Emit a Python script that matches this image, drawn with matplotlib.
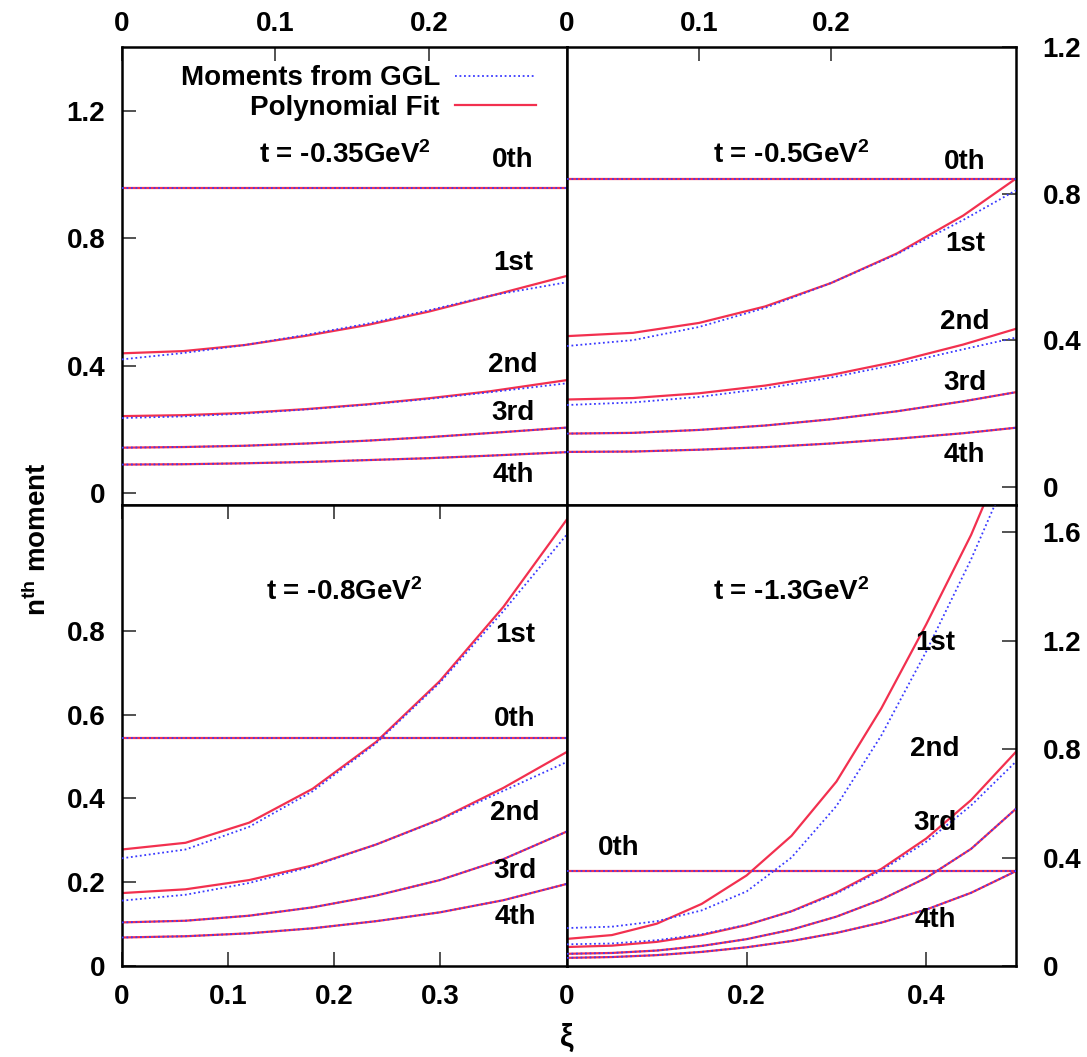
import matplotlib.pyplot as plt
from matplotlib.lines import Line2D
from matplotlib.ticker import FuncFormatter

plt.rcParams['font.family'] = ['Liberation Sans', 'DejaVu Sans']
plt.rcParams['font.weight'] = 'bold'
plt.rcParams['mathtext.fontset'] = 'custom'
plt.rcParams['mathtext.rm'] = 'Liberation Sans:bold'
plt.rcParams['mathtext.bf'] = 'Liberation Sans:bold'
plt.rcParams['mathtext.it'] = 'Liberation Sans:bold'

FIT_RED = '#f2304f'
GGL_BLUE = '#3a3aff'
FS = 20

moment_names = ['0th', '1st', '2nd', '3rd', '4th']

# --- t = -0.35 GeV^2 (top left) ---
xi_a     = [0.00, 0.04, 0.08, 0.12, 0.16, 0.20, 0.24, 0.29]
m0_a     = 0.958
m1_fit_a = [0.439, 0.446, 0.465, 0.494, 0.528, 0.570, 0.619, 0.682]
m1_ggl_a = [0.420, 0.440, 0.465, 0.497, 0.532, 0.574, 0.620, 0.662]
m2_fit_a = [0.242, 0.245, 0.252, 0.264, 0.279, 0.298, 0.320, 0.355]
m2_ggl_a = [0.236, 0.241, 0.250, 0.263, 0.278, 0.296, 0.317, 0.345]
m3_a     = [0.143, 0.145, 0.149, 0.156, 0.165, 0.176, 0.189, 0.206]
m4_a     = [0.090, 0.091, 0.094, 0.098, 0.104, 0.110, 0.118, 0.129]

# --- t = -0.5 GeV^2 (top right) ---
xi_b     = [0.00, 0.05, 0.10, 0.15, 0.20, 0.25, 0.30, 0.34]
m0_b     = 0.841
m1_fit_b = [0.411, 0.420, 0.447, 0.492, 0.556, 0.637, 0.740, 0.841]
m1_ggl_b = [0.384, 0.400, 0.436, 0.488, 0.556, 0.635, 0.728, 0.809]
m2_fit_b = [0.238, 0.242, 0.255, 0.276, 0.305, 0.342, 0.388, 0.431]
m2_ggl_b = [0.223, 0.230, 0.245, 0.268, 0.298, 0.334, 0.375, 0.407]
m3_b     = [0.145, 0.147, 0.155, 0.167, 0.184, 0.206, 0.233, 0.258]
m4_b     = [0.095, 0.096, 0.101, 0.108, 0.118, 0.131, 0.146, 0.161]

# --- t = -0.8 GeV^2 (bottom left) ---
xi_c     = [0.00, 0.06, 0.12, 0.18, 0.24, 0.30, 0.36, 0.42]
m0_c     = 0.543
m1_fit_c = [0.278, 0.294, 0.342, 0.423, 0.535, 0.680, 0.857, 1.066]
m1_ggl_c = [0.257, 0.278, 0.332, 0.417, 0.532, 0.676, 0.847, 1.030]
m2_fit_c = [0.174, 0.183, 0.205, 0.240, 0.290, 0.350, 0.425, 0.511]
m2_ggl_c = [0.156, 0.170, 0.198, 0.238, 0.290, 0.349, 0.418, 0.487]
m3_c     = [0.104, 0.108, 0.120, 0.140, 0.168, 0.205, 0.255, 0.321]
m4_c     = [0.068, 0.071, 0.078, 0.090, 0.107, 0.128, 0.157, 0.196]

# --- t = -1.3 GeV^2 (bottom right) ---
xi_d     = [0.00, 0.05, 0.10, 0.15, 0.20, 0.25, 0.30, 0.35, 0.40, 0.45, 0.50]
m0_d     = 0.350
m1_fit_d = [0.100, 0.114, 0.156, 0.229, 0.334, 0.480, 0.680, 0.950, 1.260, 1.590, 1.980]
m1_ggl_d = [0.140, 0.145, 0.165, 0.205, 0.275, 0.400, 0.590, 0.850, 1.160, 1.500, 1.880]
m2_fit_d = [0.070, 0.075, 0.089, 0.114, 0.151, 0.202, 0.271, 0.358, 0.470, 0.612, 0.790]
m2_ggl_d = [0.080, 0.083, 0.095, 0.117, 0.152, 0.201, 0.267, 0.352, 0.458, 0.592, 0.754]
m3_d     = [0.045, 0.048, 0.057, 0.074, 0.099, 0.134, 0.182, 0.245, 0.325, 0.432, 0.580]
m4_d     = [0.030, 0.033, 0.040, 0.052, 0.069, 0.092, 0.122, 0.160, 0.208, 0.270, 0.350]

t_labels = ['t = -0.35GeV$^{2}$', 't = -0.5GeV$^{2}$',
            't = -0.8GeV$^{2}$', 't = -1.3GeV$^{2}$']

panels = [
    dict(xi=xi_a, m0=m0_a, fit=[m1_fit_a, m2_fit_a, m3_a, m4_a],
         ggl=[m1_ggl_a, m2_ggl_a, m3_a, m4_a]),
    dict(xi=xi_b, m0=m0_b, fit=[m1_fit_b, m2_fit_b, m3_b, m4_b],
         ggl=[m1_ggl_b, m2_ggl_b, m3_b, m4_b]),
    dict(xi=xi_c, m0=m0_c, fit=[m1_fit_c, m2_fit_c, m3_c, m4_c],
         ggl=[m1_ggl_c, m2_ggl_c, m3_c, m4_c]),
    dict(xi=xi_d, m0=m0_d, fit=[m1_fit_d, m2_fit_d, m3_d, m4_d],
         ggl=[m1_ggl_d, m2_ggl_d, m3_d, m4_d]),
]

# --- layout (figure fractions) ---
L, M, R = 0.1122, 0.5216, 0.9347
B, H, T = 0.0861, 0.5222, 0.9555

fig = plt.figure(figsize=(10.87, 10.57), dpi=100)
ax_tl = fig.add_axes([L, H, M - L, T - H])
ax_tr = fig.add_axes([M, H, R - M, T - H])
ax_bl = fig.add_axes([L, B, M - L, H - B])
ax_br = fig.add_axes([M, B, R - M, H - B])
axes = [ax_tl, ax_tr, ax_bl, ax_br]

xlims = [(0, 0.29), (0, 0.34), (0, 0.42), (0, 0.50)]
ylims = [(-0.037, 1.4), (-0.05, 1.2), (0, 1.1), (0, 1.7)]
xticks = [[0, 0.1, 0.2], [0, 0.1, 0.2], [0, 0.1, 0.2, 0.3], [0, 0.2, 0.4]]
yticks = [[0, 0.4, 0.8, 1.2], [0, 0.4, 0.8, 1.2], [0, 0.2, 0.4, 0.6, 0.8],
          [0, 0.4, 0.8, 1.2, 1.6]]
title_y = [0.764, 0.764, 0.812, 0.812]
# label (x, y) in axes fraction for 0th..4th
label_pos = [
    [(0.879, 0.753), (0.879, 0.528), (0.879, 0.306), (0.879, 0.201), (0.879, 0.066)],
    [(0.886, 0.750), (0.886, 0.571), (0.886, 0.400), (0.886, 0.266), (0.886, 0.109)],
    [(0.883, 0.535), (0.883, 0.718), (0.883, 0.331), (0.883, 0.205), (0.883, 0.107)],
    [(0.116, 0.255), (0.82, 0.70), (0.82, 0.47), (0.82, 0.31), (0.82, 0.10)],
]

fmt = FuncFormatter(lambda v, p: f'{v:g}')

for i, (ax, p) in enumerate(zip(axes, panels)):
    # fit first, GGL dots on top
    ax.axhline(p['m0'], color=FIT_RED, lw=1.6, zorder=2)
    ax.axhline(p['m0'], color=GGL_BLUE, lw=1.3, ls=(0, (1, 1.5)), zorder=3)
    for f, g in zip(p['fit'], p['ggl']):
        ax.plot(p['xi'], f, color=FIT_RED, lw=1.6, zorder=2)
        ax.plot(p['xi'], g, color=GGL_BLUE, lw=1.3, ls=(0, (1, 1.5)), zorder=3)

    ax.set_xlim(*xlims[i])
    ax.set_ylim(*ylims[i])
    ax.set_xticks(xticks[i])
    ax.set_yticks(yticks[i])
    ax.xaxis.set_major_formatter(fmt)
    ax.yaxis.set_major_formatter(fmt)
    for s in ax.spines.values():
        s.set_linewidth(1.8)
        s.set_color('black')
    ax.tick_params(direction='in', length=10, width=1.3, color='#444444',
                   labelsize=FS)

    ax.text(0.5, title_y[i], t_labels[i], transform=ax.transAxes,
            ha='center', va='center', fontsize=FS)
    for name, (lx, ly) in zip(moment_names, label_pos[i]):
        ax.text(lx, ly, name, transform=ax.transAxes, ha='center',
                va='center', fontsize=FS)

# tick sides
ax_tl.tick_params(axis='x', bottom=False, labelbottom=False, top=True,
                  labeltop=True, pad=7)
ax_tl.tick_params(axis='y', left=True, right=False, labelleft=True, pad=12)
ax_tr.tick_params(axis='x', bottom=False, labelbottom=False, top=True,
                  labeltop=True, pad=7)
ax_tr.tick_params(axis='y', left=False, labelleft=False, right=True,
                  labelright=True, pad=19)
ax_bl.tick_params(axis='x', bottom=True, labelbottom=True, top=True, pad=13)
ax_bl.tick_params(axis='y', left=True, right=False, pad=12)
ax_br.tick_params(axis='x', bottom=True, labelbottom=True, top=False, pad=13)
ax_br.tick_params(axis='y', left=False, labelleft=False, right=True,
                  labelright=True, pad=19)

# legend in gnuplot style: right-aligned text, sample after
handles = [Line2D([], [], color=GGL_BLUE, lw=1.3, ls=(0, (1, 1.5))),
           Line2D([], [], color=FIT_RED, lw=1.6)]
leg = ax_tl.legend(handles, ['Moments from GGL', 'Polynomial Fit'],
                   loc='upper right', bbox_to_anchor=(0.93, 0.96),
                   frameon=False, markerfirst=False, fontsize=FS,
                   handlelength=2.9, handletextpad=0.55, labelspacing=0.12,
                   borderpad=0, borderaxespad=0)
for col in leg._legend_handle_box.get_children():
    col.align = 'right'

fig.text(0.035, 0.49, r'n$^{\mathbf{th}}$ moment', rotation=90,
         ha='center', va='center', fontsize=FS)
fig.text(M, 0.018, 'ξ', ha='center', va='center', fontsize=FS + 2)

fig.savefig('out.png', dpi=100)
